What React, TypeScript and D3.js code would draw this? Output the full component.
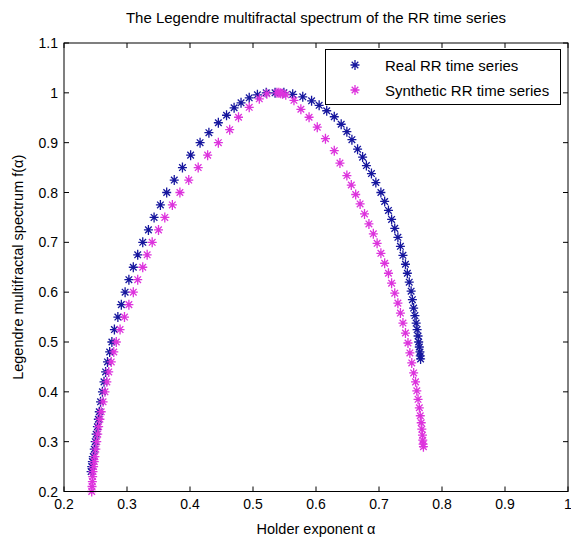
import React from "react";
import * as d3 from "d3";

const title = "The Legendre multifractal spectrum of the RR time series";
const xLabel = "Holder exponent α";
const yLabel = "Legendre multifractal spectrum f(α)";
const xTicks = [0.2, 0.3, 0.4, 0.5, 0.6, 0.7, 0.8, 0.9, 1];
const yTicks = [0.2, 0.3, 0.4, 0.5, 0.6, 0.7, 0.8, 0.9, 1, 1.1];
const seriesNames = ["Real RR time series", "Synthetic RR time series"];

// Real RR: [alpha, f]
const realAlpha = [
  0.243, 0.244, 0.245, 0.2465, 0.248, 0.2495, 0.251, 0.253, 0.2545, 0.256, 0.258, 0.261, 0.2635, 0.266, 0.269, 0.2725,
  0.276, 0.28, 0.2855, 0.291, 0.297, 0.303, 0.31, 0.317, 0.325, 0.334, 0.343, 0.353, 0.363, 0.375, 0.388, 0.401,
  0.416, 0.43, 0.445, 0.458, 0.47, 0.481, 0.494, 0.507, 0.521, 0.535,
  0.549, 0.563, 0.579, 0.593, 0.605, 0.617, 0.629, 0.64, 0.649, 0.657, 0.666, 0.674, 0.68, 0.688, 0.695, 0.703,
  0.709, 0.715, 0.72, 0.725, 0.73, 0.734, 0.738, 0.742, 0.745, 0.748, 0.751, 0.753, 0.755, 0.757, 0.759, 0.7605,
  0.762, 0.763, 0.764, 0.765, 0.7655, 0.766,
];
const realF = [
  0.24, 0.25, 0.26, 0.27, 0.285, 0.3, 0.315, 0.33, 0.345, 0.36, 0.38, 0.4, 0.42, 0.44, 0.46, 0.48,
  0.5, 0.525, 0.55, 0.575, 0.6, 0.625, 0.65, 0.675, 0.7, 0.725, 0.75, 0.775, 0.8, 0.825, 0.85, 0.875,
  0.9, 0.92, 0.94, 0.955, 0.97, 0.98, 0.99, 0.996, 1.0, 1.0,
  1.0, 0.997, 0.992, 0.984, 0.975, 0.964, 0.952, 0.937, 0.922, 0.906, 0.887, 0.871, 0.854, 0.838, 0.82, 0.8,
  0.782, 0.764, 0.746, 0.728, 0.71, 0.692, 0.674, 0.656, 0.638, 0.62, 0.602, 0.585, 0.568, 0.553, 0.538, 0.525,
  0.512, 0.5, 0.49, 0.48, 0.472, 0.466,
];

// Synthetic RR
const synthAlpha = [
  0.244, 0.2445, 0.245, 0.2455, 0.246, 0.247, 0.248, 0.249, 0.2505, 0.252, 0.2535, 0.255, 0.257, 0.259, 0.262, 0.265,
  0.268, 0.271, 0.275, 0.279, 0.283, 0.289, 0.296, 0.303, 0.31, 0.317, 0.325, 0.332, 0.34, 0.35, 0.36, 0.372,
  0.384, 0.398, 0.413, 0.428, 0.445, 0.463, 0.477, 0.494, 0.51, 0.522, 0.538, 0.541, 0.544, 0.547,
  0.552, 0.565, 0.576, 0.589, 0.602, 0.615, 0.629, 0.638, 0.649, 0.656, 0.663, 0.67, 0.677, 0.684, 0.691, 0.697,
  0.703, 0.709, 0.715, 0.72, 0.725, 0.73, 0.734, 0.738, 0.742, 0.746, 0.749, 0.752, 0.755, 0.758, 0.76, 0.762,
  0.764, 0.7655, 0.767, 0.768, 0.769, 0.7695, 0.77, 0.7705,
];
const synthF = [
  0.2, 0.21, 0.22, 0.23, 0.24, 0.25, 0.26, 0.27, 0.285, 0.3, 0.315, 0.33, 0.345, 0.36, 0.38, 0.4,
  0.42, 0.44, 0.46, 0.48, 0.5, 0.525, 0.55, 0.575, 0.6, 0.625, 0.65, 0.675, 0.7, 0.725, 0.75, 0.775,
  0.8, 0.825, 0.85, 0.875, 0.9, 0.926, 0.951, 0.971, 0.988, 0.998, 1.0, 1.0, 0.999, 0.998,
  0.996, 0.985, 0.967, 0.951, 0.931, 0.908, 0.884, 0.859, 0.834, 0.815, 0.796, 0.777, 0.757, 0.737, 0.717, 0.698,
  0.678, 0.658, 0.638, 0.618, 0.598, 0.578, 0.558, 0.538, 0.518, 0.498, 0.478, 0.458, 0.438, 0.42, 0.402, 0.385,
  0.368, 0.352, 0.338, 0.325, 0.313, 0.303, 0.295, 0.29,
];

const W = 571;
const H = 537;
const M = { left: 64, right: 568, top: 43, bottom: 491.5 };
const COLORS = ["#16169e", "#dd33dd"];
const FONT = "'Liberation Sans', Arial, sans-serif";

const star = "M-4.5,0H4.5M0,-5V5M-3.3,-3.3L3.3,3.3M-3.3,3.3L3.3,-3.3";

export default function App() {
  const x = d3.scaleLinear().domain([0.2, 1]).range([M.left, M.right]);
  const y = d3.scaleLinear().domain([0.2, 1.1]).range([M.bottom, M.top]);
  const series = [
    d3.zip(realAlpha, realF),
    d3.zip(synthAlpha, synthF),
  ];
  const tl = 5;
  return (
    <svg width={W} height={H} style={{ position: "absolute", left: 0, top: 0, background: "#fff" }} fontFamily={FONT}>
      <rect x={0} y={0} width={W} height={H} fill="#fff" />
      <text x={(M.left + M.right) / 2} y={23} textAnchor="middle" fontSize={15} fill="#000">{title}</text>
      {xTicks.map((t) => (
        <g key={"x" + t}>
          <line x1={x(t)} x2={x(t)} y1={M.bottom} y2={M.bottom - tl} stroke="#000" />
          <line x1={x(t)} x2={x(t)} y1={M.top} y2={M.top + tl} stroke="#000" />
          <text x={x(t)} y={509} textAnchor="middle" fontSize={14} fill="#000">{String(t)}</text>
        </g>
      ))}
      {yTicks.map((t) => (
        <g key={"y" + t}>
          <line x1={M.left} x2={M.left + tl} y1={y(t)} y2={y(t)} stroke="#000" />
          <line x1={M.right} x2={M.right - tl} y1={y(t)} y2={y(t)} stroke="#000" />
          <text x={M.left - 6} y={y(t) + 5} textAnchor="end" fontSize={14} fill="#000">{String(t)}</text>
        </g>
      ))}
      {series.map((pts, i) => (
        <g key={"s" + i} stroke={COLORS[i]} strokeWidth={1.3} fill="none">
          {pts.map((p, j) => (
            <path key={j} d={star} transform={`translate(${x(p[0])},${y(p[1])})`} />
          ))}
        </g>
      ))}
      <rect x={M.left} y={M.top} width={M.right - M.left} height={M.bottom - M.top} fill="none" stroke="#000" strokeWidth={1} />
      <rect x={325.5} y={49.5} width={235} height={55} fill="#fff" stroke="#000" />
      {seriesNames.map((n, i) => (
        <g key={"l" + i}>
          <path d={star} transform={`translate(355,${65 + i * 25})`} stroke={COLORS[i]} strokeWidth={1.3} fill="none" />
          <text x={385} y={71 + i * 25} fontSize={15} fill="#000">{n}</text>
        </g>
      ))}
      <text x={(M.left + M.right) / 2} y={534} textAnchor="middle" fontSize={14.5} fill="#000">{xLabel}</text>
      <text transform={`translate(23,${(M.top + M.bottom) / 2}) rotate(-90)`} textAnchor="middle" fontSize={14.5} fill="#000">{yLabel}</text>
    </svg>
  );
}
